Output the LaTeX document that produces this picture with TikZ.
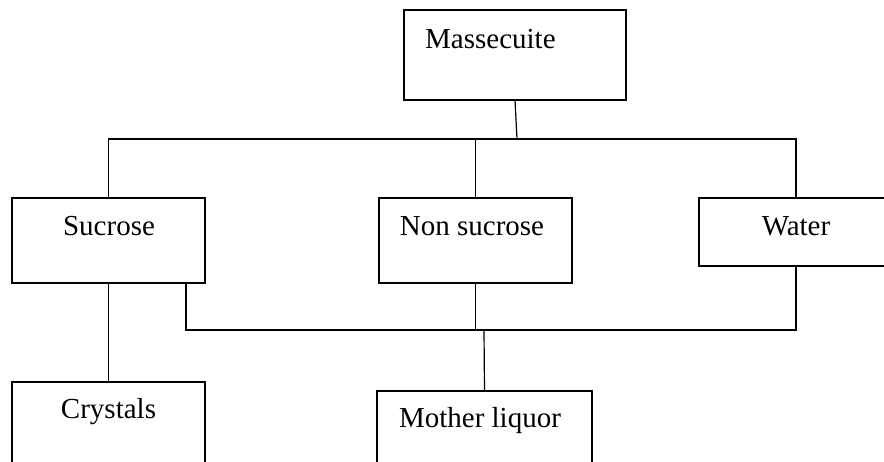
\documentclass[tikz,border=0pt]{standalone}
\usepackage{fontspec}
\setmainfont{Liberation Serif}
\begin{document}
\begin{tikzpicture}[x=1pt,y=-1pt,
  box/.style={draw,line width=1.4pt,inner sep=0pt,outer sep=0pt},
  lab/.style={inner sep=0pt,font=\fontsize{29}{34}\selectfont},
  conn/.style={line width=1.2pt}]
\useasboundingbox (0,0) rectangle (884,462);
\clip (0,0) rectangle (884,462);
\fill[white] (0,0) rectangle (884,462);
% boxes
\node[box,minimum width=222pt,minimum height=90pt] (mass) at (515,55) {};
\node[box,minimum width=193pt,minimum height=85pt] (suc) at (108.5,240.5) {};
\node[box,minimum width=193pt,minimum height=85pt] (non) at (475.5,240.5) {};
\node[box,minimum width=194pt,minimum height=68pt] (wat) at (796,232) {};
\node[box,minimum width=193pt,minimum height=88pt] (cry) at (108.5,426) {};
\node[box,minimum width=215pt,minimum height=79pt] (ml) at (484.5,430.5) {};
% labels
\node[lab,anchor=base west] (tmass) at (425,49) {Massecuite};
\node[lab,anchor=base] (tsuc) at (109,236) {Sucrose};
\node[lab,anchor=base] (tnon) at (472,236) {Non sucrose};
\node[lab,anchor=base] (twat) at (796,236) {Water};
\node[lab,anchor=base] (tcry) at (108.5,418) {Crystals};
\node[lab,anchor=base] (tml) at (480,427) {Mother liquor};
% junctions
\coordinate (j1) at (517,139);
\coordinate (j2) at (484,330);
\coordinate (s2) at (186,283);
% connectors
\draw[conn] (mass.south) -- (j1);
\draw[conn] (suc.north) -- (suc.north |- j1) -- (wat.north |- j1) -- (wat.north);
\draw[conn] (non.north) -- (non.north |- j1);
\draw[conn] (s2) -- (s2 |- j2) -- (wat.south |- j2) -- (wat.south);
\draw[conn] (non.south) -- (non.south |- j2);
\draw[conn] (j2) -- (ml.north);
\draw[conn] (suc.south) -- (cry.north);
\end{tikzpicture}
\end{document}
